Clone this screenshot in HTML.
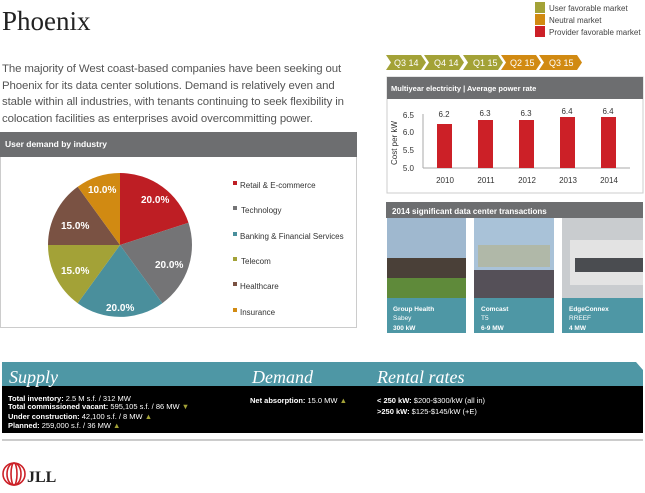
<!DOCTYPE html>
<html><head><style>
body{margin:0;width:645px;height:493px;background:#fff;position:relative;overflow:hidden;font-family:"Liberation Sans",sans-serif}
.a{position:absolute}
.hd{background:#6d6e70;color:#fff;font-weight:bold;font-size:8.5px;line-height:22px;padding-left:5px;box-sizing:border-box}
</style></head><body>
<div class="a" style="left:2px;top:6px;font-family:'Liberation Serif',serif;font-size:27px;color:#222">Phoenix</div>
<div class="a" style="left:2px;top:61px;width:360px;font-size:11.4px;line-height:16.5px;color:#555;letter-spacing:-0.1px">The majority of West coast-based companies have been seeking out Phoenix for its data center solutions. Demand is relatively even and stable within all industries, with tenants continuing to seek flexibility in colocation facilities as enterprises avoid overcommitting power.</div>

<div class="a" style="left:0;top:132px;width:357px;height:196px;border:1px solid #ccc;box-sizing:border-box"></div>
<div class="a hd" style="left:0;top:132px;width:357px;height:25px;line-height:25px">User demand by industry</div>
<svg class="a" style="left:0;top:0" width="645" height="493">
<g stroke="none">
<path d="M120 245L120 173A72 72 0 0 1 188.5 222.8Z" fill="#be1e24"/>
<path d="M120 245L188.5 222.8A72 72 0 0 1 162.3 303.2Z" fill="#747476"/>
<path d="M120 245L162.3 303.2A72 72 0 0 1 77.7 303.2Z" fill="#4a8f9c"/>
<path d="M120 245L77.7 303.2A72 72 0 0 1 48 245Z" fill="#a3a237"/>
<path d="M120 245L48 245A72 72 0 0 1 77.7 186.8Z" fill="#7a5243"/>
<path d="M120 245L77.7 186.8A72 72 0 0 1 120 173Z" fill="#d18a12"/>
</g>
<g fill="#fff" font-weight="bold" font-size="10" font-family="Liberation Sans">
<text x="141" y="203">20.0%</text><text x="155" y="268">20.0%</text><text x="106" y="311">20.0%</text>
<text x="61" y="274">15.0%</text><text x="61" y="229">15.0%</text><text x="88" y="193">10.0%</text>
</g>
<g font-size="8" fill="#333" font-family="Liberation Sans">
<rect x="233" y="181" width="4" height="4" fill="#be1e24"/><text x="240" y="188">Retail &amp; E-commerce</text>
<rect x="233" y="206" width="4" height="4" fill="#747476"/><text x="241" y="213">Technology</text>
<rect x="233" y="232" width="4" height="4" fill="#4a8f9c"/><text x="240" y="239">Banking &amp; Financial Services</text>
<rect x="233" y="257" width="4" height="4" fill="#a3a237"/><text x="241" y="264">Telecom</text>
<rect x="233" y="282" width="4" height="4" fill="#7a5243"/><text x="240" y="289">Healthcare</text>
<rect x="233" y="308" width="4" height="4" fill="#d18a12"/><text x="240" y="315">Insurance</text>
</g>
<rect x="535" y="2" width="10" height="11" fill="#a3a237"/><rect x="535" y="14" width="10" height="11" fill="#d18a12"/><rect x="535" y="26" width="10" height="11" fill="#cc2027"/>
<g font-size="8" fill="#444" font-family="Liberation Sans"><text x="549" y="11">User favorable market</text><text x="549" y="23">Neutral market</text><text x="549" y="35">Provider favorable market</text></g>
<g font-size="9" fill="#fff" font-family="Liberation Sans">
<path d="M386 55H421L426 62.5L421 70H386L391 62.5Z" fill="#a3a237"/><text x="394" y="66">Q3 14</text>
<path d="M424 55H459L464 62.5L459 70H424L429 62.5Z" fill="#a3a237"/><text x="434" y="66">Q4 14</text>
<path d="M463 55H498L503 62.5L498 70H463L468 62.5Z" fill="#a3a237"/><text x="473" y="66">Q1 15</text>
<path d="M501 55H536L541 62.5L536 70H501L506 62.5Z" fill="#d18a12"/><text x="510" y="66">Q2 15</text>
<path d="M539 55H577L582 62.5L577 70H539L544 62.5Z" fill="#d18a12"/><text x="549" y="66">Q3 15</text>
</g>
<rect x="387" y="77" width="256" height="116" fill="none" stroke="#ccc"/>
<rect x="387" y="77" width="256" height="22" fill="#6d6e70"/>
<text x="391" y="91" font-size="7.5" font-weight="bold" fill="#fff" font-family="Liberation Sans">Multiyear electricity | Average power rate</text>
<line x1="423" y1="114" x2="423" y2="168" stroke="#aaa"/><line x1="423" y1="168" x2="630" y2="168" stroke="#aaa"/>
<g font-size="8" fill="#333" font-family="Liberation Sans" text-anchor="end">
<text x="414" y="118">6.5</text><text x="414" y="135">6.0</text><text x="414" y="153">5.5</text><text x="414" y="171">5.0</text></g>
<text transform="translate(397,143) rotate(-90)" font-size="8" fill="#333" text-anchor="middle" font-family="Liberation Sans">Cost per kW</text>
<g fill="#cc2027"><rect x="437" y="124" width="15" height="44"/><rect x="478" y="120" width="15" height="48"/><rect x="519" y="120" width="15" height="48"/><rect x="560" y="117" width="15" height="51"/><rect x="601" y="117" width="15" height="51"/></g>
<g font-size="8" fill="#333" font-family="Liberation Sans" text-anchor="middle">
<text x="444" y="117">6.2</text><text x="485" y="116">6.3</text><text x="526" y="116">6.3</text><text x="567" y="114">6.4</text><text x="608" y="114">6.4</text>
<text x="445" y="183">2010</text><text x="486" y="183">2011</text><text x="527" y="183">2012</text><text x="568" y="183">2013</text><text x="609" y="183">2014</text></g>
<rect x="386" y="202" width="257" height="16" fill="#6d6e70"/>
<text x="392" y="214" font-size="8" font-weight="bold" fill="#fff" font-family="Liberation Sans">2014  significant data center transactions</text>
<rect x="387" y="218" width="79" height="80" fill="#9fb8cf"/><rect x="387" y="258" width="79" height="20" fill="#4a4038"/><rect x="387" y="278" width="79" height="20" fill="#5f8a3a"/>
<rect x="474" y="218" width="80" height="80" fill="#a9c2d8"/><rect x="478" y="245" width="72" height="22" fill="#b0b8a8"/><rect x="474" y="270" width="80" height="28" fill="#555058"/>
<rect x="562" y="218" width="81" height="80" fill="#c9cccf"/><rect x="570" y="240" width="73" height="45" fill="#e3e3e3"/><rect x="575" y="258" width="68" height="14" fill="#4a4c50"/>
<g fill="#4e97a5"><rect x="387" y="298" width="79" height="35"/><rect x="474" y="298" width="80" height="35"/><rect x="562" y="298" width="81" height="35"/></g>
<g font-size="6.5" fill="#fff" font-family="Liberation Sans">
<text x="393" y="311" font-weight="bold">Group Health</text><text x="393" y="320">Sabey</text><text x="393" y="330" font-weight="bold">300 kW</text>
<text x="481" y="311" font-weight="bold">Comcast</text><text x="481" y="320">T5</text><text x="481" y="330" font-weight="bold">6-9 MW</text>
<text x="569" y="311" font-weight="bold">EdgeConnex</text><text x="569" y="320">RREEF</text><text x="569" y="330" font-weight="bold">4 MW</text>
</g>
<path d="M2 362H636L643 370V386H2Z" fill="#4e97a5"/>
<rect x="2" y="386" width="641" height="47" fill="#000"/>
<g font-family="Liberation Serif" font-style="italic" font-size="18" fill="#fff"><text x="9" y="383">Supply</text><text x="252" y="383">Demand</text><text x="377" y="383">Rental rates</text></g>
<g font-size="7.5" fill="#fff" font-family="Liberation Sans">
<text x="8" y="401"><tspan font-weight="bold">Total inventory:</tspan> 2.5 M s.f. /  312 MW</text>
<text x="8" y="409"><tspan font-weight="bold">Total commissioned vacant:</tspan> 595,105 s.f. /  86 MW <tspan fill="#a3a237">▼</tspan></text>
<text x="8" y="419"><tspan font-weight="bold">Under construction:</tspan> 42,100 s.f. /  8 MW <tspan fill="#a3a237">▲</tspan></text>
<text x="8" y="428"><tspan font-weight="bold">Planned:</tspan>  259,000 s.f. /  36 MW <tspan fill="#a3a237">▲</tspan></text>
<text x="250" y="403"><tspan font-weight="bold">Net absorption:</tspan> 15.0 MW <tspan fill="#a3a237">▲</tspan></text>
<text x="377" y="403"><tspan font-weight="bold">&lt; 250 kW:</tspan> $200-$300/kW (all in)</text>
<text x="377" y="414"><tspan font-weight="bold">&gt;250 kW:</tspan> $125-$145/kW (+E)</text>
</g>
<line x1="2" y1="440" x2="643" y2="440" stroke="#999"/>
<g fill="none" stroke="#cc2027" stroke-width="1.6"><ellipse cx="14" cy="474" rx="11" ry="11"/><ellipse cx="14" cy="474" rx="7" ry="11"/><ellipse cx="14" cy="474" rx="3" ry="11"/></g>
<text x="27" y="482" font-family="Liberation Serif" font-weight="bold" font-size="16" fill="#222">JLL</text>
</svg>
</body></html>
